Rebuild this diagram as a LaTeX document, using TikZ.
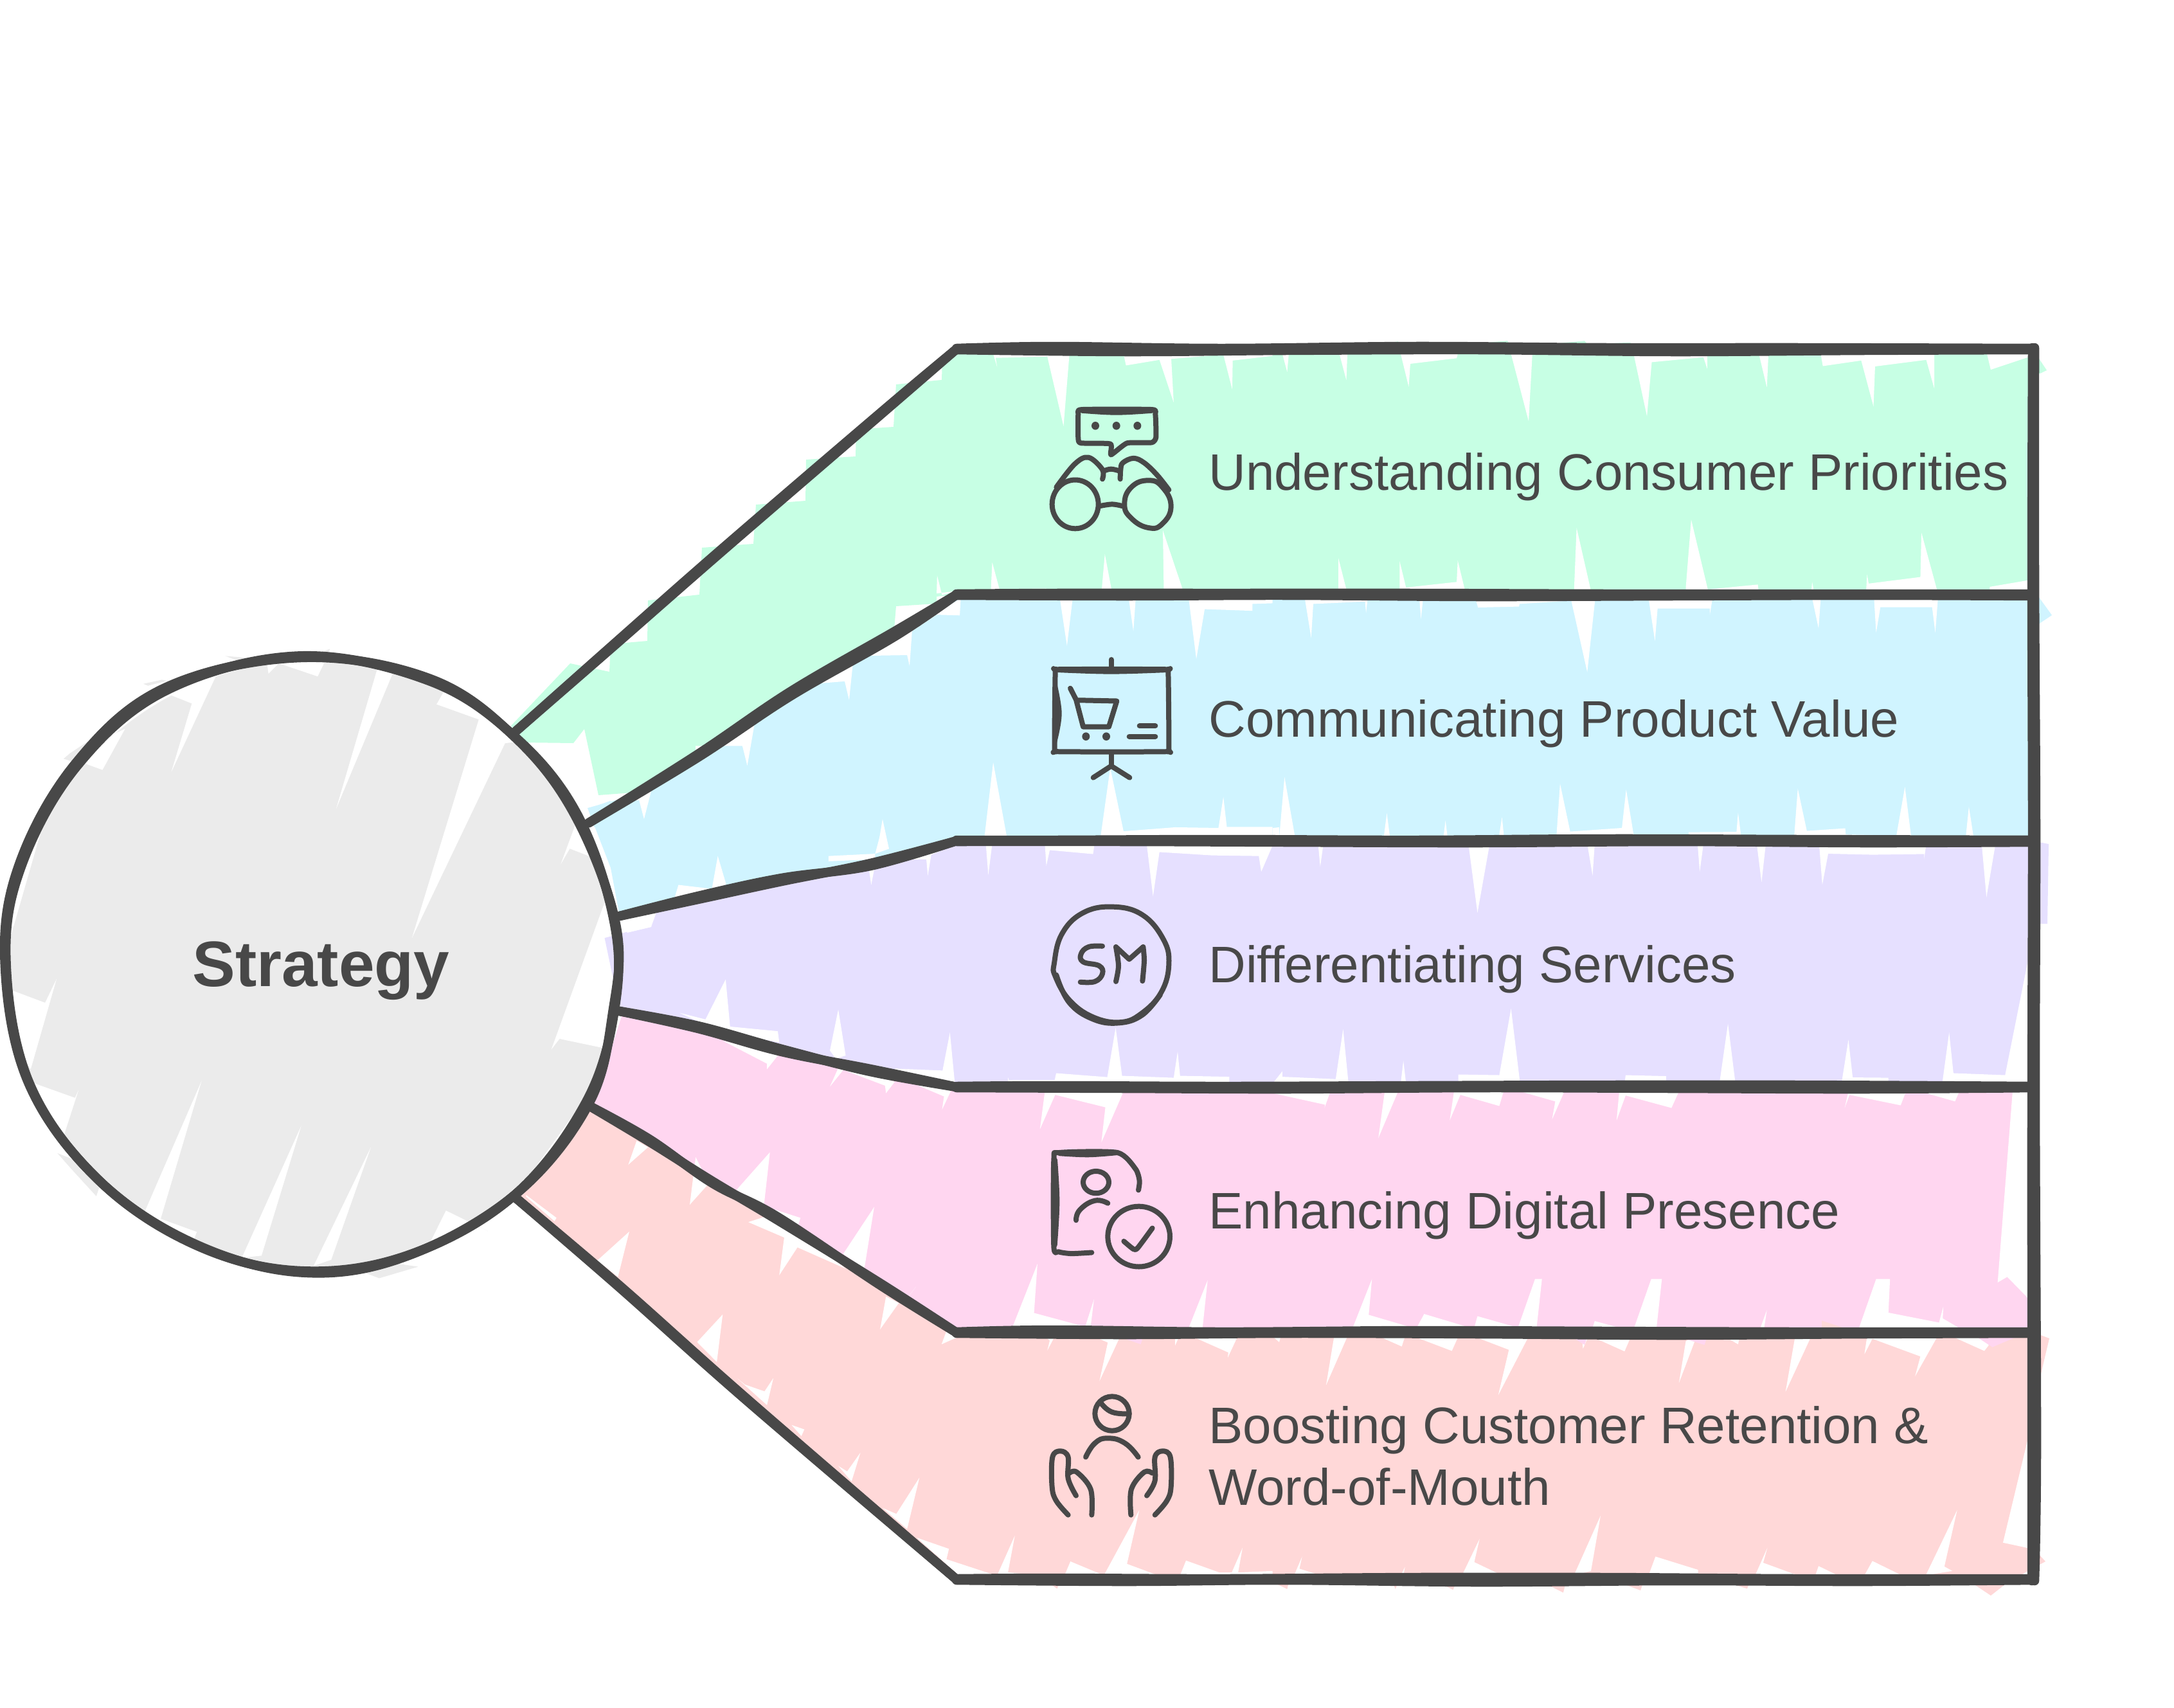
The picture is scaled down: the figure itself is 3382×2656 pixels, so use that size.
\documentclass[tikz,border=0pt]{standalone}
\usepackage{fontspec}
\setmainfont{Liberation Sans}
\definecolor{ink}{HTML}{484848}
\definecolor{cgreen}{HTML}{C7FFE4}
\definecolor{cblue}{HTML}{D0F4FF}
\definecolor{cpurple}{HTML}{E6E0FF}
\definecolor{cpink}{HTML}{FFD6F0}
\definecolor{cred}{HTML}{FFD8D8}
\definecolor{cgrey}{HTML}{EBEBEB}
\newcommand\W[1]{\fill[white] plot coordinates {#1} -- cycle;}
\newcommand\F[2]{\fill[#1] plot coordinates {#2} -- cycle;}
\newcommand\HL[7]{%
 \draw[rl] plot[smooth,tension=.6] coordinates {(1488,#1+1)(1750,#1+1+#2)(2000,#1+1+#3)(2300,#1+1+#4)(2600,#1+1+#5)(2900,#1+1+#6)(3164,#1+1+#7)};
 \draw[rl] plot[smooth,tension=.6] coordinates {(1488,#1-1)(1640,#1-1-#5)(1900,#1-1-#7)(2200,#1-1-#2)(2500,#1-1-#6)(2800,#1-1-#3)(3164,#1-1)};}
\tikzset{
 rl/.style={draw=ink,line width=.29cm,line cap=round,line join=round},
 ic/.style={draw=ink,line width=.16cm,line cap=round,line join=round},
 lab/.style={text=ink,anchor=base west,inner sep=0pt,font=\fontsize{45.5}{54.6}\selectfont},
 zfour/.style={shift={(0,1000)},x=.012755cm,y=-.012755cm},
 zfive/.style={shift={(780,520)},x=.015306cm,y=-.010204cm},
 zsix/.style={shift={(1980,520)},x=.016582cm,y=-.010204cm},
 zseven/.style={shift={(780,1300)},x=.015306cm,y=-.010204cm},
 zeight/.style={shift={(1980,1300)},x=.016582cm,y=-.010204cm},
 znine/.style={shift={(780,2000)},x=.015306cm,y=-.006888cm},
 zten/.style={shift={(1980,2000)},x=.016582cm,y=-.006888cm},
 ione/.style={shift={(1600,600)},x=.006667cm,y=-.008418cm},
 itwo/.style={shift={(1600,1380)},x=.006667cm,y=-.008163cm},
 ithree/.style={shift={(1600,2150)},x=.006667cm,y=-.006667cm},
}
\begin{document}
\begin{tikzpicture}[x=.02cm,y=-.02cm]
\useasboundingbox (0,0) rectangle (3382,2656);
\fill[white] (0,0) rectangle (3382,2656);
% ---- green band
\F{cgreen}{(795,1129)(887,1032)(948,1045)(950,1002)(1007,997)(1008,934)(1088,925)(1092,852)(1172,846)(1176,785)(1253,779)(1254,715)(1331,710)(1332,668)(1390,664)(1394,598)(1465,591)(1466,553)(1491,543)(3164,543)(3172,558)(3184,576)(3155,590)(3170,925)(1488,925)(1457,928)(1457,939)(1394,943)(1388,1014)(1346,1014)(1243,1078)(1239,1111)(1178,1135)(1013,1224)(1010,1231)(931,1237)(909,1134)(892,1156)(814,1155)}
\begin{scope}[zfive]
\F{cgreen}{(1040,40)(1230,25)(1300,40)}
\W{(1000,60)(1008,100)(1005,72)(1110,68)(1143,280)(1155,60)}
\W{(1265,60)(1270,95)(1338,78)(1367,208)(1362,75)(1468,62)(1486,168)(1487,80)(1568,66)(1568,60)}
\W{(885,790)(886,735)(896,795)(925,783)}
\W{(998,695)(1015,790)(995,790)}
\W{(1000,777)(1108,775)(1108,790)(1000,790)}
\W{(1227,670)(1242,790)(1220,790)}
\W{(1345,598)(1388,790)(1347,790)}
\end{scope}
\begin{scope}[zsix]
\F{cgreen}{(180,35)(235,22)(240,35)}\F{cgreen}{(370,30)(440,20)(445,30)}\F{cgreen}{(520,30)(585,20)(590,30)}\F{cgreen}{(600,30)(670,25)(675,30)}
\W{(18,60)(27,115)(30,60)}
\W{(125,60)(138,140)(140,60)}
\W{(240,60)(255,160)(258,90)(345,73)(347,60)}
\W{(447,60)(480,265)(487,60)}
\W{(677,60)(702,250)(711,85)(808,70)(815,105)(815,60)}
\W{(912,60)(927,162)(930,60)}
\W{(1028,60)(1032,97)(1104,80)(1127,220)(1130,98)(1226,78)(1241,165)(1241,60)}
\W{(1340,60)(1347,108)(1417,70)(1417,60)}
\W{(123,682)(140,790)(123,790)}
\W{(238,692)(250,772)(345,755)(347,690)(362,790)(238,790)}
\W{(570,590)(598,790)(565,790)}
\W{(785,565)(818,790)(775,790)(775,770)}
\W{(815,778)(910,763)(912,790)(815,790)}
\W{(1012,755)(1016,790)(1010,790)}
\W{(1115,732)(1118,760)(1215,740)(1217,605)(1248,790)(1113,790)}
\W{(1345,770)(1417,750)(1417,790)(1345,790)}
\end{scope}
% ---- blue band
\F{cblue}{(914,1257)(964,1243)(1009,1229)(1488,925)(3164,925)(3171,928)(3192,957)(3171,971)(3164,1308)(1488,1308)(964,1425)(950,1350)}
\begin{scope}[zfive]
\W{(1135,800)(1150,950)(1162,800)}
\W{(1275,800)(1285,905)(1290,800)}
\W{(1397,800)(1413,990)(1430,838)(1527,843)(1527,822)(1568,820)(1568,800)}
\W{(934,805)(932,857)(885,855)(835,905)(830,1012)(825,978)(745,980)}
\W{(715,1000)(707,1115)(698,1058)(640,1065)}
\W{(515,1185)(500,1315)(490,1255)(395,1255)(395,1290)}
\W{(305,1390)(290,1478)(280,1420)(240,1425)}
\W{(775,1478)(788,1568)(765,1568)}
\W{(1000,1305)(1028,1535)(982,1535)}
\W{(1218,1535)(1238,1322)(1265,1515)(1370,1503)(1458,1505)(1468,1410)(1475,1502)(1568,1502)(1568,1535)}
\end{scope}
\begin{scope}[zsix]
\W{(60,805)(72,925)(76,822)(173,815)(175,850)(178,805)}
\W{(275,805)(278,868)(282,805)}
\W{(380,805)(385,833)(462,830)(463,822)(560,812)(590,1030)(605,805)}
\W{(705,805)(717,935)(722,836)(820,836)(820,855)(825,805)}
\W{(1012,805)(1024,897)(1028,805)}
\W{(1128,805)(1132,910)(1140,832)(1237,832)(1243,910)(1248,805)}
\W{(22,1350)(42,1535)(12,1535)}
\W{(0,1505)(12,1503)(12,1535)(0,1535)}
\W{(214,1460)(220,1535)(208,1535)}
\W{(324,1482)(328,1535)(320,1535)}
\W{(430,1472)(434,1535)(424,1535)}
\W{(539,1370)(558,1516)(655,1505)(663,1388)(678,1535)(532,1535)}
\W{(780,1518)(870,1517)(873,1458)(879,1535)(780,1535)}
\W{(985,1385)(1002,1514)(1074,1506)(1075,1525)(1170,1528)(1186,1380)(1198,1535)(978,1535)}
\W{(1306,1440)(1315,1535)(1300,1535)}
\end{scope}
% ---- purple band
\F{cpurple}{(941,1459)(1013,1442)(1021,1420)(1488,1308)(3164,1308)(3172,1310)(3187,1313)(3185,1437)(3172,1437)(3164,1500)(3164,1691)(1488,1691)(967,1573)(954,1514)}
\begin{scope}[zseven]
\W{(352,190)(360,150)(428,162)(440,62)(457,148)(420,175)}
\W{(775,-30)(788,40)(760,55)}
\W{(665,62)(760,55)(760,72)(665,78)}
\W{(745,80)(752,150)(762,72)(864,72)(867,122)(874,58)(920,30)(800,60)}
\W{(300,240)(305,278)(210,312)(245,265)}
\W{(985,25)(990,120)(998,25)}
\W{(1105,25)(1108,92)(1115,44)(1203,56)(1206,25)}
\W{(1312,25)(1325,185)(1338,50)(1445,60)(1540,62)(1545,110)(1568,30)}
\W{(415,560)(456,438)(465,582)(562,596)(565,630)(450,600)(362,540)}
\W{(668,655)(685,530)(700,670)(680,680)}
\W{(800,710)(897,716)(912,600)(922,755)(800,720)}
\W{(1030,737)(1032,745)(1125,745)(1128,724)(1232,736)(1249,585)(1262,732)(1367,738)(1375,658)(1380,732)(1480,735)(1480,755)(1030,755)}
\end{scope}
\begin{scope}[zeight]
\W{(85,25)(89,95)(95,25)}
\W{(367,25)(384,235)(407,25)}
\W{(590,25)(600,122)(604,25)}
\W{(797,25)(801,110)(808,25)}
\W{(908,25)(917,142)(925,25)}
\W{(1025,25)(1031,150)(1042,55)(1125,58)(1222,56)(1222,72)(1226,25)}
\W{(1330,25)(1339,188)(1356,25)}
\W{(1417,380)(1374,730)(1277,724)(1269,600)(1256,755)(1418,755)}
\W{(18,718)(18,735)(118,742)(132,590)(142,755)(0,755)}
\W{(245,686)(250,755)(240,755)}
\W{(348,728)(425,730)(447,527)(464,755)(348,755)}
\W{(662,730)(738,733)(738,755)(660,755)}
\W{(854,573)(868,755)(838,755)}
\W{(1080,622)(1088,737)(1155,738)(1155,755)(1067,755)}
\end{scope}
% ---- pink band
\F{cpink}{(967,1581)(1488,1690)(3164,1690)(3164,2040)(3174,2045)(3164,2073)(1488,2073)(918,1726)(925,1713)}
\begin{scope}[zseven]
\W{(450,625)(540,695)(540,712)(565,665)}
\W{(668,765)(685,708)(780,762)(782,785)(800,750)(700,705)}
\W{(845,760)(900,795)(896,835)(915,775)}
\W{(1105,780)(1095,895)(1126,790)(1228,828)(1220,935)(1265,780)}
\W{(546,965)(534,1125)(478,1080)}
\W{(758,1132)(738,1320)(695,1275)}
\W{(608,1165)(602,1195)(535,1130)}
\W{(1090,1305)(1083,1455)(1187,1497)(1205,1413)(1197,1510)(1036,1510)}
\W{(1436,1355)(1425,1510)(1395,1510)}
\W{(843,1375)(810,1440)(830,1400)}
\end{scope}
\begin{scope}[zeight]
\W{(0,785)(98,820)(97,830)(108,780)}
\W{(210,780)(198,922)(235,780)}
\W{(340,780)(332,868)(352,790)(425,824)(433,780)}
\W{(465,780)(530,810)(524,865)(547,780)}
\W{(650,780)(645,868)(662,792)(748,830)(762,780)}
\W{(1080,780)(1073,830)(1082,790)(1178,822)(1188,780)}
\W{(1215,780)(1280,810)(1288,780)}
\W{(1388,780)(1360,1362)(1378,1345)(1420,1415)(1420,780)}
\end{scope}
\begin{scope}[zten]
\W{(186,-30)(180,132)(262,190)(150,190)}
\W{(284,128)(270,190)(370,190)}
\W{(384,138)(378,190)(460,190)}
\W{(492,-30)(505,-30)(495,190)(460,190)}
\W{(604,160)(600,190)(650,190)}
\W{(710,-30)(730,-30)(720,190)(678,190)}
\W{(927,110)(922,190)(915,190)}
\W{(1132,-30)(1158,-30)(1155,122)(1250,167)(1258,95)(1257,148)(1340,265)(1415,190)(1100,190)}
\W{(1395,-30)(1418,-30)(1418,65)}
\end{scope}
% ---- red band
\F{cred}{(814,1858)(918,1728)(1488,2073)(3164,2073)(3188,2082)(3174,2141)(3167,2413)(3182,2429)(3156,2443)(3120,2464)(3097,2482)(3070,2464)(1488,2457)(803,1864)}
\begin{scope}[zseven]
\W{(50,1095)(112,1165)(108,1175)(50,1100)}
\W{(395,980)(383,1125)(422,1060)}
\W{(275,930)(258,1003)(298,950)}
\W{(502,1178)(575,1225)(565,1340)(602,1255)(700,1320)(560,1150)}
\W{(260,1207)(237,1345)(195,1295)}
\W{(782,1405)(770,1505)(808,1425)}
\end{scope}
\begin{scope}[znine]
\W{(450,130)(438,345)(398,255)}
\W{(553,418)(535,478)(495,447)(480,420)(540,540)}
\W{(616,650)(610,680)(590,630)}
\W{(730,755)(703,840)(685,815)(712,885)}
\W{(850,868)(803,1032)(775,1005)(825,1100)}
\W{(845,1140)(910,1190)(905,1237)(1005,1310)(930,1310)}
\W{(1008,1310)(1044,1130)(1030,1297)(1100,1310)}
\W{(1145,1310)(1157,1247)(1225,1310)}
\W{(1225,1310)(1297,1015)(1272,1258)(1335,1310)}
\W{(1380,1310)(1392,1243)(1460,1297)(1485,1297)(1507,1185)(1498,1297)(1568,1290)(1568,1310)}
\W{(895,265)(905,205)(925,235)}
\W{(1105,230)(1115,248)(1110,293)(1125,230)}
\W{(1205,230)(1233,257)(1216,432)(1258,230)}
\W{(1370,230)(1370,270)(1378,230)}
\W{(1405,230)(1478,302)(1477,325)(1497,230)}
\F{cpink}{(1255,230)(1300,265)(1305,230)}
\F{cred}{(1110,1340)(1130,1370)(1135,1340)}
\end{scope}
\begin{scope}[zten]
\W{(0,230)(12,255)(15,230)}
\W{(115,230)(100,450)(140,230)}
\W{(200,230)(242,275)(248,230)}
\W{(265,230)(336,295)(348,230)}
\W{(378,230)(443,290)(423,495)(480,230)}
\W{(580,230)(582,285)(592,230)}
\W{(598,230)(660,297)(672,230)}
\W{(775,250)(762,440)(795,230)}
\W{(855,240)(873,265)(876,230)}
\W{(980,230)(962,480)(1010,230)}
\W{(1115,230)(1110,310)(1125,240)(1215,320)(1205,410)(1247,230)}
\W{(1275,230)(1335,295)(1343,270)(1343,230)}
\W{(1418,680)(1370,1162)(1418,1187)}
\W{(55,1225)(50,1280)(90,1310)(40,1310)}
\W{(248,1272)(245,1310)(240,1310)}
\W{(388,1145)(378,1250)(430,1310)(355,1310)}
\W{(615,1040)(597,1290)(565,1310)}
\W{(718,1225)(798,1285)(798,1310)(705,1310)}
\W{(928,1185)(920,1253)(985,1310)(905,1310)}
\W{(1024,1268)(1060,1310)(1018,1310)}
\W{(1125,1245)(1180,1310)(1110,1310)}
\W{(1284,1015)(1260,1270)(1275,1290)(1225,1310)}
\F{cred}{(0,1340)(27,1372)(30,1340)}
\F{cred}{(225,1340)(230,1372)(235,1340)}
\F{cred}{(310,1340)(338,1375)(345,1340)}
\F{cred}{(505,1340)(545,1388)(550,1340)}
\F{cred}{(648,1340)(690,1378)(695,1340)}
\F{cred}{(850,1340)(890,1370)(895,1340)}
\F{cpink}{(560,230)(585,268)(590,230)}
\F{cpink}{(760,230)(810,268)(815,230)}
\F{cpink}{(1320,230)(1350,278)(1397,230)}
\F{cred}{(1030,190)(1030,158)(1070,190)}
\end{scope}
% ---- grey disc
\fill[cgrey] (486,1500) circle (472);
\begin{scope}[zfour]
\F{cgrey}{(155,283)(250,310)(215,240)(170,270)}
\F{cgrey}{(350,100)(467,148)(440,100)(395,90)}
\F{cgrey}{(550,32)(660,75)(640,40)}
\F{cgrey}{(805,15)(775,82)(690,50)(760,30)}
\F{cgrey}{(1190,1435)(1090,1385)(1120,1460)}
\F{cgrey}{(808,1505)(925,1550)(1020,1522)(940,1510)}
\F{cgrey}{(235,1350)(255,1290)(140,1245)(180,1290)}
\W{(418,315)(468,148)(360,105)(520,65)(525,85)}
\W{(655,75)(680,50)(775,82)(800,30)(650,40)}
\W{(820,405)(920,65)(960,70)}
\W{(1005,720)(1168,187)(1065,150)(1085,115)(1200,170)(1270,240)(1232,245)}
\W{(1340,335)(1430,372)(1368,540)(1390,502)(1462,530)(1445,440)(1400,370)}
\W{(1345,992)(1478,625)(1510,800)(1495,900)(1470,988)(1365,966)}
\W{(1295,1295)(1440,1095)(1400,1180)}
\W{(1020,1522)(1088,1385)(1190,1435)(1100,1490)}
\W{(905,1230)(765,1520)(808,1505)}
\W{(735,1178)(590,1500)(638,1495)}
\W{(492,1068)(350,1395)(470,1465)(480,1437)(392,1405)}
\W{(85,1075)(183,1110)(192,1090)(158,1195)(140,1245)(60,1080)}
\W{(138,820)(110,878)(30,848)(45,1000)(75,1040)}
\W{(250,310)(305,210)(240,240)(195,290)}
\W{(100,460)(25,720)(40,600)(70,500)}
\F{cpurple}{(1475,720)(1530,705)(1530,900)(1498,830)}
\F{cblue}{(1435,405)(1490,385)(1450,450)}
\end{scope}
% ---- outlines
\begin{scope}[zfour]
\draw[rl] plot[smooth cycle,tension=.62] coordinates {(730,32)(1045,92)(1255,228)(1408,418)(1498,680)(1500,890)(1430,1120)(1252,1350)(995,1494)(730,1532)(475,1468)(240,1310)(72,1075)(15,780)(52,545)(190,298)(408,115)};
\draw[rl] plot[smooth cycle,tension=.62] coordinates {(735,36)(1050,88)(1258,232)(1405,425)(1503,690)(1495,900)(1436,1125)(1258,1345)(990,1497)(735,1536)(470,1464)(235,1305)(68,1070)(12,780)(47,540)(186,292)(402,110)};
\end{scope}
\coordinate (a1) at (803,1137); \coordinate (a2) at (916,1280); \coordinate (a3) at (964,1425);
\coordinate (a4) at (964,1573); \coordinate (a5) at (918,1721); \coordinate (a6) at (803,1864);
\coordinate (b1) at (1488,543); \coordinate (b2) at (1488,925); \coordinate (b3) at (1488,1308);
\coordinate (b4) at (1488,1691); \coordinate (b5) at (1488,2073); \coordinate (b6) at (1488,2457);
\draw[rl] plot[smooth,tension=.6] coordinates {(a1)(956,1004)(1124,857)(1377,639)(b1)};
\draw[rl] plot[smooth,tension=.6] coordinates {(a1)(956,1001)(1124,853)(1377,636)(b1)};
\draw[rl] plot[smooth,tension=.6] coordinates {(a2)(1086,1178)(1231,1082)(1392,990)(b2)};
\draw[rl] plot[smooth,tension=.6] coordinates {(a2)(1086,1173)(1231,1075)(1392,982)(b2)};
\draw[rl] plot[smooth,tension=.6] coordinates {(a3)(1086,1399)(1216,1371)(1354,1343)(b3)};
\draw[rl] plot[smooth,tension=.6] coordinates {(a3)(1086,1394)(1216,1366)(1354,1347)(b3)};
\draw[rl] plot[smooth,tension=.6] coordinates {(a4)(1086,1596)(1216,1632)(1354,1667)(b4)};
\draw[rl] plot[smooth,tension=.6] coordinates {(a4)(1086,1600)(1216,1636)(1354,1663)(b4)};
\draw[rl] plot[smooth,tension=.6] coordinates {(a5)(1010,1772)(1109,1841)(1208,1892)(1369,1999)(b5)};
\draw[rl] plot[smooth,tension=.6] coordinates {(a5)(1010,1776)(1109,1838)(1208,1897)(1369,1996)(b5)};
\draw[rl] plot[smooth,tension=.6] coordinates {(a6)(964,2000)(1162,2176)(b6)};
\draw[rl] plot[smooth,tension=.6] coordinates {(a6)(964,2003)(1162,2179)(b6)};
\HL{543}{3}{1}{0}{3}{1}{0}
\HL{925}{1}{0}{2}{1}{0}{1}
\HL{1308}{0}{1}{2}{0}{2}{1}
\HL{1691}{1}{2}{0}{1}{2}{0}
\HL{2073}{2}{0}{1}{3}{1}{0}
\HL{2457}{2}{0}{3}{1}{2}{0}
\draw[rl] plot[smooth,tension=.6] coordinates {(3162,541)(3161,900)(3162,1300)(3161,1700)(3161,2100)(3161,2459)};
\draw[rl] plot[smooth,tension=.6] coordinates {(3165,541)(3165,900)(3167,1300)(3166,1700)(3168,2250)(3165,2459)};
% ---- icons
\begin{scope}[ione]
\draw[ic] plot[smooth cycle,tension=.3] coordinates {(232,105)(250,88)(575,88)(592,105)(595,190)(575,210)(460,212)(385,255)(382,215)(245,212)(232,195)};
\draw[ic] plot[smooth,tension=.6] coordinates {(250,92)(410,99)(575,92)};
\fill[ink] (312,148) ellipse (18 and 15) (410,148) ellipse (18 and 15) (508,148) ellipse (18 and 15);
\draw[ic] (218,438) ellipse (108 and 90);
\draw[ic] plot[smooth cycle,tension=.8] coordinates {(448,438)(480,375)(560,350)(625,375)(665,445)(625,510)(560,525)(480,490)};
\draw[ic] plot[smooth,tension=.6] coordinates {(130,375)(215,290)(280,265)(345,310)(345,345)};
\draw[ic] plot[smooth,tension=.6] coordinates {(350,315)(385,308)(425,315)};
\draw[ic] plot[smooth,tension=.6] coordinates {(428,345)(430,310)(440,285)(490,268)(540,285)(600,330)(655,385)};
\draw[ic] plot[smooth,tension=.6] coordinates {(330,445)(390,438)(440,445)};
\draw[ic] (386,1012) -- (386,1050);
\draw[ic] plot[smooth cycle,tension=.3] coordinates {(125,1060)(140,1048)(640,1048)(652,1060)(655,1340)(640,1352)(140,1352)(122,1340)};
\draw[ic] plot[smooth,tension=.6] coordinates {(140,1050)(386,1056)(640,1050)};
\fill[ink] plot[smooth,tension=.6] coordinates {(122,1065)(155,1210)(125,1340)} -- cycle;
\draw[ic] plot[sharp plot] coordinates {(195,1118)(222,1160)(255,1260)(375,1260)(412,1165)(230,1162)};
\fill[ink] (268,1296) ellipse (18 and 15) (363,1296) ellipse (18 and 15);
\draw[ic] (518,1257) -- (592,1257);
\draw[ic] (470,1296) -- (592,1296);
\draw[ic] (386,1360) -- (386,1405);
\draw[ic] (302,1448) -- (386,1405) -- (472,1448);
\end{scope}
\begin{scope}[itwo]
\draw[ic] plot[smooth cycle,tension=.7] coordinates {(387,75)(530,105)(630,200)(655,295)(620,400)(530,480)(430,515)(300,495)(190,430)(125,340)(120,290)(155,180)(250,100)};
\draw[ic] plot[smooth,tension=.7] coordinates {(130,335)(190,440)(300,503)(420,518)(530,488)(615,410)};
\draw[ic] plot[smooth,tension=.7] coordinates {(345,225)(280,228)(245,255)(255,285)(330,300)(345,330)(310,360)(242,362)};
\draw[ic] plot[smooth,tension=.5] coordinates {(408,360)(420,300)(408,228)};
\draw[ic] (408,228) -- (470,275) -- (535,228);
\draw[ic] plot[smooth,tension=.5] coordinates {(535,228)(540,280)(532,358)};
\draw[ic] plot[smooth,tension=.4] coordinates {(295,1393)(200,1397)(140,1390)(118,1370)(118,1040)(145,1012)(415,1012)(500,1075)(518,1120)(513,1155)};
\draw[ic] plot[smooth,tension=.6] coordinates {(123,1040)(133,1200)(122,1365)};
\draw[ic] plot[smooth,tension=.6] coordinates {(145,1015)(280,1020)(415,1012)};
\draw[ic] (315,1125) ellipse (60 and 42);
\draw[ic] plot[smooth,tension=.8] coordinates {(222,1270)(240,1230)(310,1195)(370,1205)};
\draw[ic] (515,1332) ellipse (145 and 115);
\draw[ic] plot[smooth,tension=.4] coordinates {(445,1350)(490,1380)(510,1375)(578,1300)};
\end{scope}
\begin{scope}[ithree]
\draw[ic] (390,147) circle (80);
\draw[ic] plot[smooth,tension=.8] coordinates {(340,100)(390,140)(470,148)};
\draw[ic] plot[smooth,tension=.8] coordinates {(267,350)(310,285)(370,262)(450,285)(512,350)};
\draw[ic] plot[smooth,tension=.6] coordinates {(185,620)(130,555)(110,490)(112,350)(150,322)(185,350)(185,450)(222,530)};
\draw[ic] plot[smooth,tension=.6] coordinates {(190,425)(225,420)(290,500)(295,620)};
\draw[ic] plot[smooth,tension=.6] coordinates {(590,620)(645,555)(665,490)(662,350)(625,322)(590,350)(590,460)(552,530)};
\draw[ic] plot[smooth,tension=.6] coordinates {(578,425)(540,420)(480,500)(478,620)};
\end{scope}
% ---- text
\node[text=ink,anchor=base west,inner sep=0pt,font=\fontsize{56.9}{68}\selectfont\bfseries] (strategy) at (299,1534) {Strategy};
\node[lab] (t1) at (1880,762) {Understanding Consumer Priorities};
\node[lab] (t2) at (1880,1146) {Communicating Product Value};
\node[lab] (t3) at (1880,1528) {Differentiating Services};
\node[lab] (t4) at (1880,1911) {Enhancing Digital Presence};
\node[lab,align=left] (t5) at (1880,2341) {Boosting Customer Retention \&\\Word-of-Mouth};
\end{tikzpicture}
\end{document}
